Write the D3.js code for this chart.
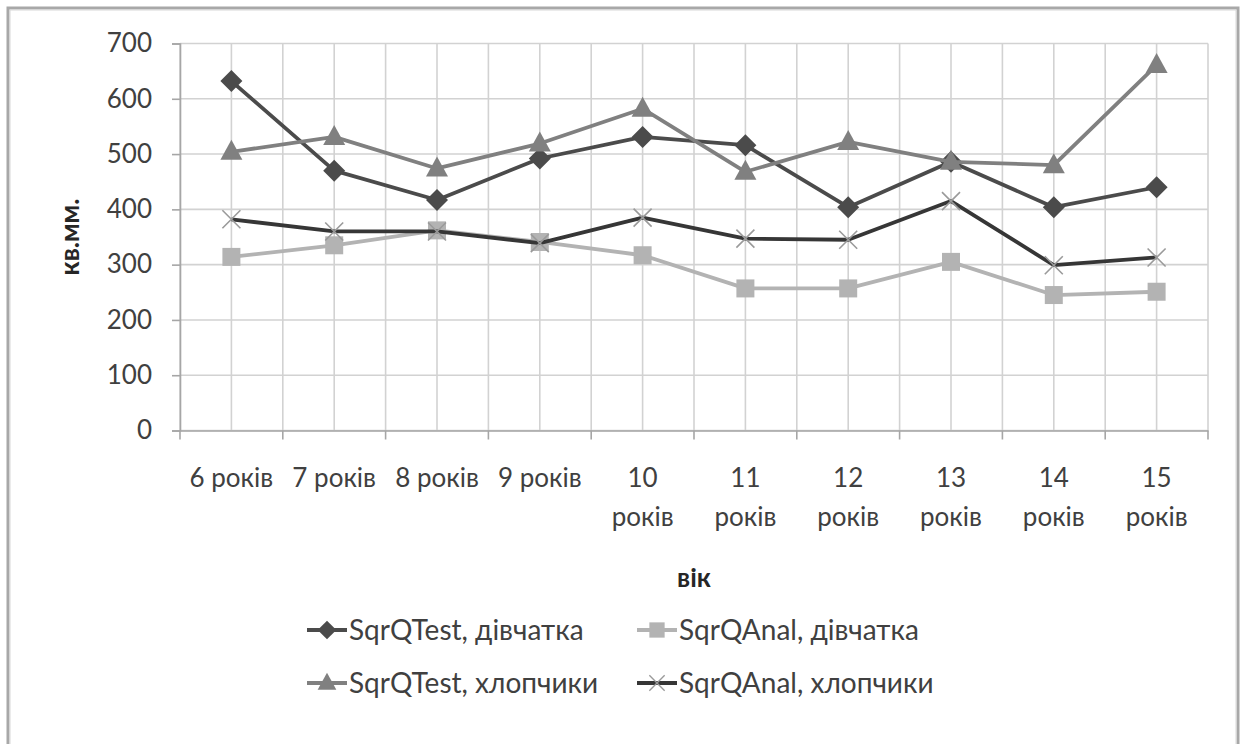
<!DOCTYPE html>
<html>
<head>
<meta charset="utf-8">
<script src="https://cdn.jsdelivr.net/npm/d3@7"></script>
<style>
  html, body { margin: 0; padding: 0; background: #fff; }
  svg { display: block; font-family: Lato, "Open Sans", sans-serif; }
</style>
</head>
<body>
<svg id="chart" width="1244" height="744"></svg>
<script>
// Age groups along the x axis
const ages = ["6 років", "7 років", "8 років", "9 років", "10 років",
              "11 років", "12 років", "13 років", "14 років", "15 років"];
// Tick label lines (long labels wrap onto two lines)
const ageLabelLines = [["6 років"], ["7 років"], ["8 років"], ["9 років"],
  ["10", "років"], ["11", "років"], ["12", "років"], ["13", "років"],
  ["14", "років"], ["15", "років"]];

// Areas, sq. mm
const sqrQTestGirls = [632, 470, 417, 492, 531, 516, 404, 486, 404, 440];
const sqrQAnalGirls = [314, 335, 362, 341, 317, 257, 257, 305, 245, 251];
const sqrQTestBoys  = [504, 531, 474, 519, 582, 468, 522, 486, 480, 661];
const sqrQAnalBoys  = [382, 360, 360, 339, 385, 347, 345, 415, 299, 313];

const yTicks = [0, 100, 200, 300, 400, 500, 600, 700];
const seriesNames = ["SqrQTest, дівчатка", "SqrQAnal, дівчатка",
                     "SqrQTest, хлопчики", "SqrQAnal, хлопчики"];

const series = [
  { name: seriesNames[0], values: sqrQTestGirls, line: "#4b4b4b", marker: "#4b4b4b", shape: "diamond" },
  { name: seriesNames[1], values: sqrQAnalGirls, line: "#b3b3b3", marker: "#b3b3b3", shape: "square" },
  { name: seriesNames[2], values: sqrQTestBoys,  line: "#808080", marker: "#808080", shape: "triangle" },
  { name: seriesNames[3], values: sqrQAnalBoys,  line: "#363636", marker: "#9a9a9a", shape: "cross" }
];

const FS = 26;        // axis text size
const LEGEND_FS = 28; // legend text size
const svg = d3.select("#chart");
const plot = { left: 180, right: 1208, top: 43.5, bottom: 430.5 };

// Outer chart frame
svg.append("rect").attr("x", 8).attr("y", 8).attr("width", 1230).attr("height", 780)
  .attr("fill", "none").attr("stroke", "#a8a8a8").attr("stroke-width", 3);
svg.append("rect").attr("x", 10).attr("y", 10).attr("width", 1226).attr("height", 780)
  .attr("fill", "none").attr("stroke", "#d8d8d8").attr("stroke-width", 1);

const x = d3.scaleBand().domain(ages).range([plot.left, plot.right]).padding(0);
const y = d3.scaleLinear().domain([0, 700]).range([plot.bottom, plot.top]);
const cx = d => x(d) + x.bandwidth() / 2;

const grid = svg.append("g");
// Horizontal gridlines
grid.selectAll("line.h").data(yTicks).join("line")
  .attr("x1", plot.left).attr("x2", plot.right)
  .attr("y1", d => y(d)).attr("y2", d => y(d))
  .attr("stroke", "#d2d2d2").attr("stroke-width", 1.6);
// Vertical gridlines: category boundaries and centres
const vPos = [];
ages.forEach(a => { vPos.push(x(a)); vPos.push(cx(a)); });
vPos.push(plot.right);
grid.selectAll("line.v").data(vPos).join("line")
  .attr("x1", d => d).attr("x2", d => d)
  .attr("y1", plot.top).attr("y2", plot.bottom)
  .attr("stroke", "#d2d2d2").attr("stroke-width", 1.6);

// Axes
const yAxis = svg.append("g").attr("transform", `translate(${plot.left},0)`)
  .call(d3.axisLeft(y).tickValues(yTicks).tickSize(8).tickPadding(20));
yAxis.select(".domain").attr("stroke", "#a6a6a6").attr("stroke-width", 1.6);
yAxis.selectAll(".tick line").attr("stroke", "#a6a6a6").attr("stroke-width", 1.6);
yAxis.selectAll(".tick text").attr("font-size", FS).attr("fill", "#404040")
  .attr("font-family", "Lato, sans-serif");

const xAxis = svg.append("g").attr("transform", `translate(0,${plot.bottom})`)
  .call(d3.axisBottom(x).tickSize(0).tickFormat(""));
xAxis.select(".domain").attr("stroke", "#a6a6a6").attr("stroke-width", 1.6);
// Tick marks at category boundaries
const bounds = ages.map(a => x(a)).concat([plot.right]);
svg.append("g").selectAll("line").data(bounds).join("line")
  .attr("x1", d => d).attr("x2", d => d)
  .attr("y1", plot.bottom).attr("y2", plot.bottom + 9)
  .attr("stroke", "#a6a6a6").attr("stroke-width", 1.6);

// Category labels
const xl = svg.append("g").attr("font-size", FS).attr("fill", "#404040").attr("text-anchor", "middle");
ages.forEach((a, i) => {
  ageLabelLines[i].forEach((ln, j) => {
    xl.append("text").attr("x", cx(a)).attr("y", 487 + j * 39).text(ln);
  });
});

// Axis titles
svg.append("text").attr("transform", `translate(79,${(plot.top + plot.bottom) / 2}) rotate(-90)`)
  .attr("text-anchor", "middle").attr("font-size", FS).attr("font-weight", "bold")
  .attr("fill", "#262626").text("кв.мм.");
svg.append("text").attr("x", (plot.left + plot.right) / 2).attr("y", 587)
  .attr("text-anchor", "middle").attr("font-size", FS).attr("font-weight", "bold")
  .attr("fill", "#262626").text("вік");

// Marker shapes
function markerPath(shape) {
  switch (shape) {
    case "diamond": return "M0,-11L11,0L0,11L-11,0Z";
    case "square": return "M-9,-9H9V9H-9Z";
    case "triangle": return "M0,-12L11,8H-11Z";
    case "cross": return "M-9,-9L9,9M-9,9L9,-9";
  }
}
function drawMarker(g, s, px, py, scale = 1) {
  const p = g.append("path").attr("d", markerPath(s.shape))
    .attr("transform", `translate(${px},${py}) scale(${scale})`);
  if (s.shape === "cross") p.attr("fill", "none").attr("stroke", s.marker).attr("stroke-width", 1.6);
  else p.attr("fill", s.marker);
}

const line = d3.line().x((d, i) => cx(ages[i])).y(d => y(d));
const plotG = svg.append("g");
series.forEach(s => {
  const g = plotG.append("g");
  g.append("path").datum(s.values).attr("d", line)
    .attr("fill", "none").attr("stroke", s.line).attr("stroke-width", 3.8)
    .attr("stroke-linejoin", "round");
  s.values.forEach((v, i) => drawMarker(g, s, cx(ages[i]), y(v)));
});

// Legend, two rows by two columns
const legendCols = [307, 637];
const legendRows = [630, 683];
const lg = svg.append("g");
series.forEach((s, i) => {
  const lx = legendCols[i % 2], ly = legendRows[Math.floor(i / 2)];
  const g = lg.append("g");
  g.append("line").attr("x1", lx).attr("x2", lx + 40).attr("y1", ly).attr("y2", ly)
    .attr("stroke", s.line).attr("stroke-width", 3.8);
  drawMarker(g, s, lx + 20, ly, 0.85);
  g.append("text").attr("x", lx + 42).attr("y", ly + 10).attr("font-size", LEGEND_FS)
    .attr("fill", "#404040").text(s.name);
});
</script>
</body>
</html>
